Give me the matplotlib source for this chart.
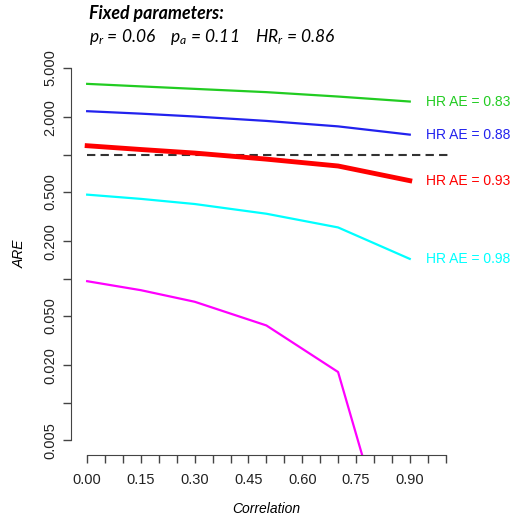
import matplotlib
matplotlib.use('Agg')
import matplotlib.pyplot as plt
import numpy as np

plt.rcParams.update({
    'font.family': ['Liberation Sans', 'DejaVu Sans'],
    'font.size': 10,
    'mathtext.fontset': 'custom',
    'mathtext.rm': 'Lato',
    'mathtext.it': 'Lato:italic',
})

# correlation grid
corr = [0.0, 0.15, 0.30, 0.50, 0.70, 0.90]

# ARE per HR AE scenario
are_083 = [3.72, 3.55, 3.39, 3.19, 2.94, 2.68]
are_088 = [2.24, 2.14, 2.03, 1.87, 1.69, 1.45]
are_093 = [1.18, 1.10, 1.03, 0.92, 0.81, 0.617]
are_098 = [0.476, 0.44, 0.40, 0.334, 0.259, 0.1445]
are_103 = [0.0955, 0.0808, 0.0652, 0.042, 0.0177, 0.00018]

series = [
    (are_083, '#22cc22', 1.6, 'HR AE = 0.83'),
    (are_088, '#2222ee', 1.6, 'HR AE = 0.88'),
    (are_093, '#ff0000', 3.5, 'HR AE = 0.93'),
    (are_098, '#00ffff', 1.6, 'HR AE = 0.98'),
    (are_103, '#ff00ff', 1.6, None),
]

xticks = np.round(np.arange(0, 1.0001, 0.05), 2)
xlabels = [f'{t:.2f}' if round(t / 0.15, 6) % 1 == 0 and t < 0.95 else '' for t in xticks]
yticks = [0.005, 0.01, 0.02, 0.05, 0.1, 0.2, 0.5, 1, 2, 5]
ylabels = ['0.005', '', '0.020', '0.050', '', '0.200', '0.500', '', '2.000', '5.000']

fig = plt.figure(figsize=(5.11, 5.18), dpi=100)
ax = fig.add_axes([0.139, 0.1216, 0.766, 0.776])

ax.plot([0, 1.01], [1, 1], color='#333333', lw=1.5, ls=(0, (4, 2.5)))
for vals, col, lw, lab in series:
    ax.plot(corr, vals, color=col, lw=lw, solid_joinstyle='round')
    if lab:
        ax.text(0.945, vals[-1], lab, color=col, va='center', ha='left', fontsize=10)

ax.set_yscale('log')
ax.set_xlim(-0.045, 1.047)
ax.set_ylim(10 ** (np.log10(0.005) - 0.12), 10 ** (np.log10(5) + 0.12))
ax.set_xticks(xticks, xlabels)
ax.set_yticks(yticks, ylabels)
ax.minorticks_off()
for lbl in ax.get_yticklabels():
    lbl.set_rotation(90)
    lbl.set_va('center')
ax.tick_params(direction='out', length=6, width=1, color='#444444', labelsize=10.5,
               labelcolor='#222222')
ax.tick_params(axis='y', pad=4)
ax.tick_params(axis='x', pad=7)

for s in ['top', 'right']:
    ax.spines[s].set_visible(False)
ax.spines['bottom'].set_bounds(0, 1.0)
ax.spines['left'].set_bounds(0.005, 5)
ax.spines['bottom'].set_color('#444444')
ax.spines['left'].set_color('#444444')

ax.set_xlabel('Correlation', style='italic', fontsize=10, labelpad=11)
ax.set_ylabel('ARE', style='italic', fontsize=10, labelpad=12)

fig.text(0.174, 0.973, 'Fixed parameters:', family='Lato', style='italic',
         weight='bold', fontsize=12.8, va='center', ha='left')
fig.text(0.174, 0.929, r'$p_r$ = 0.06    $p_a$ = 0.11    $HR_r$ = 0.86',
         family='Lato', style='italic', fontsize=12.5, va='center', ha='left')

fig.savefig('out.png', dpi=100)
